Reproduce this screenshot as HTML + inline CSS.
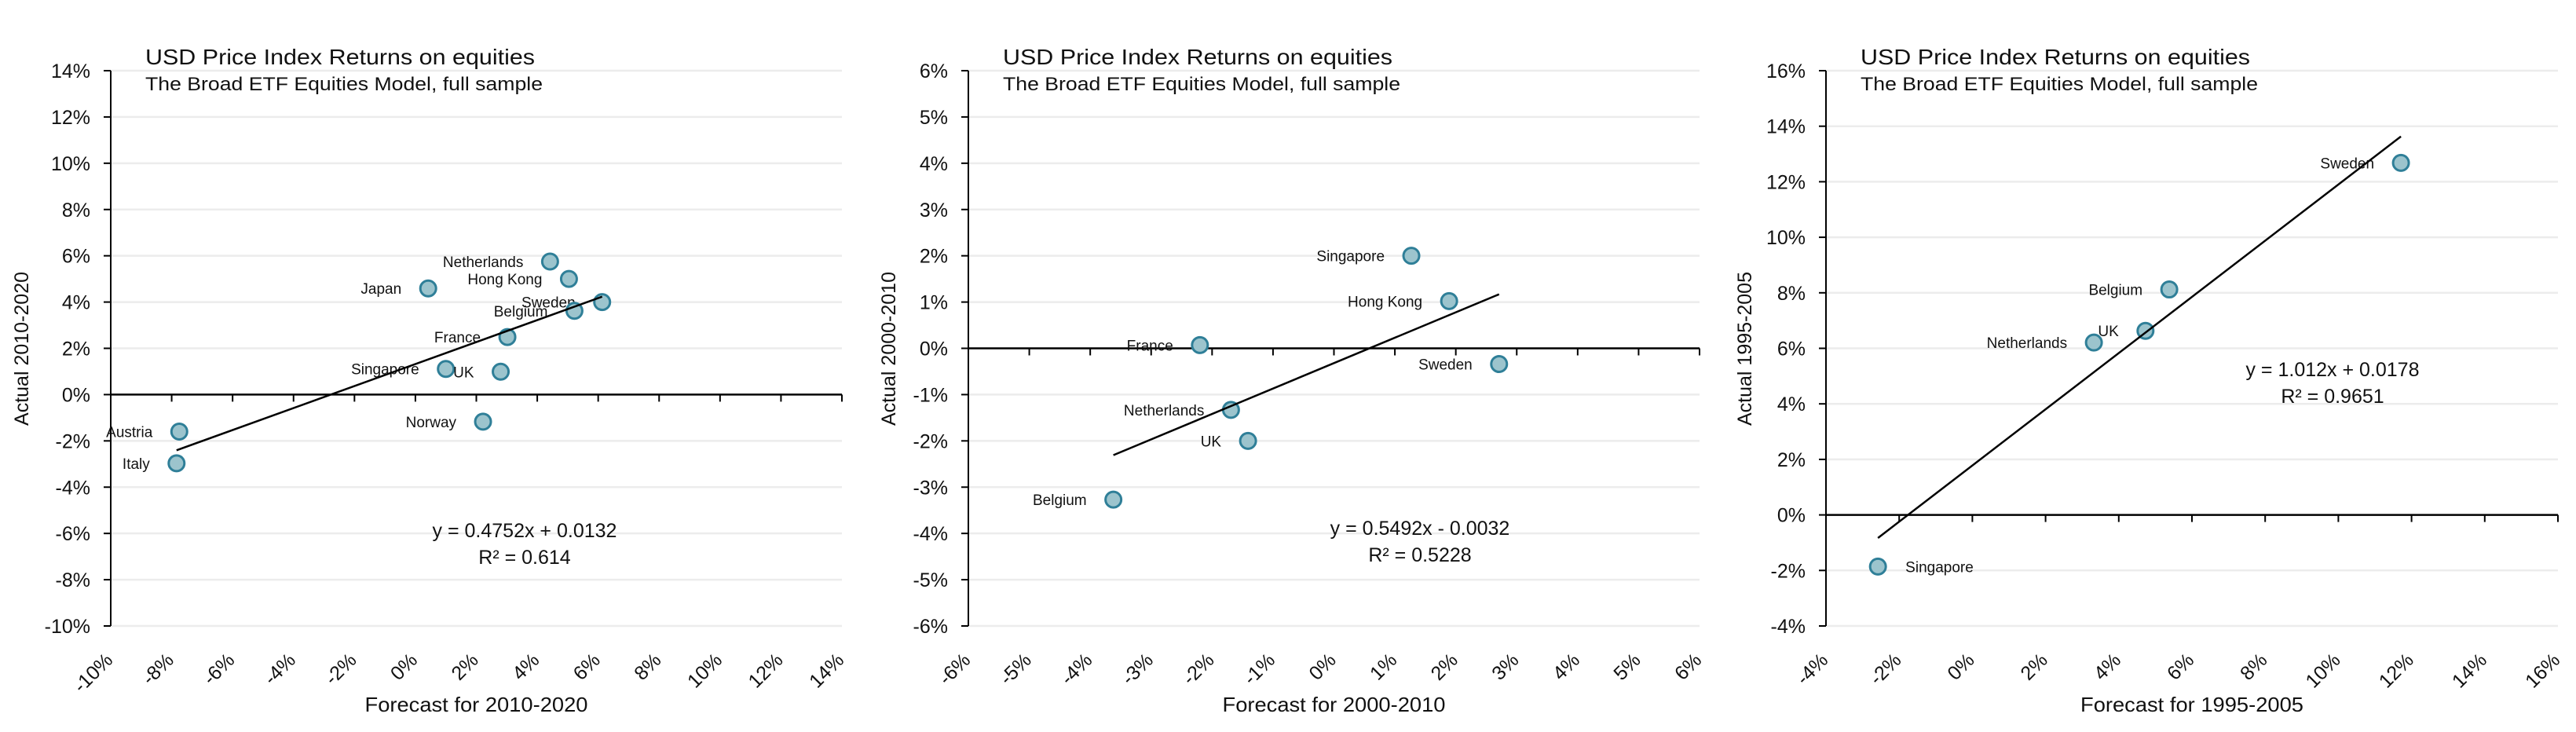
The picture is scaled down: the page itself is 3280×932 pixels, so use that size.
<!DOCTYPE html>
<html><head><meta charset="utf-8"><style>
html,body{margin:0;padding:0;background:#fff;}
svg{display:block;font-family:"Liberation Sans",sans-serif;}
</style></head><body>
<svg id="chart" width="3280" height="932" viewBox="0 0 3280 932" xmlns="http://www.w3.org/2000/svg"></svg>
<script>
// ---- Panel 1 data (2010-2020) ----
const p1Countries = ["Netherlands","Hong Kong","Japan","Sweden","Belgium","France","Singapore","UK","Norway","Austria","Italy"];
const p1Forecast = [4.42,5.04,0.42,6.13,5.22,3.02,1.0,2.8,2.22,-7.75,-7.84];
const p1Actual = [5.75,5.0,4.59,4.0,3.62,2.49,1.11,0.99,-1.17,-1.6,-2.97];
const p1XTicks = [-10,-8,-6,-4,-2,0,2,4,6,8,10,12,14];
const p1YTicks = [-10,-8,-6,-4,-2,0,2,4,6,8,10,12,14];
const p1Slope = 0.4752, p1Intercept = 1.32;
const p1Eq = ["y = 0.4752x + 0.0132","R² = 0.614"];
// ---- Panel 2 data (2000-2010) ----
const p2Countries = ["Singapore","Hong Kong","France","Sweden","Netherlands","UK","Belgium"];
const p2Forecast = [1.27,1.89,-2.2,2.71,-1.69,-1.41,-3.62];
const p2Actual = [2.0,1.02,0.07,-0.34,-1.33,-2.0,-3.27];
const p2XTicks = [-6,-5,-4,-3,-2,-1,0,1,2,3,4,5,6];
const p2YTicks = [-6,-5,-4,-3,-2,-1,0,1,2,3,4,5,6];
const p2Slope = 0.5492, p2Intercept = -0.32;
const p2Eq = ["y = 0.5492x - 0.0032","R² = 0.5228"];
// ---- Panel 3 data (1995-2005) ----
const p3Countries = ["Sweden","Belgium","UK","Netherlands","Singapore"];
const p3Forecast = [11.71,5.38,4.73,3.32,-2.58];
const p3Actual = [12.68,8.12,6.63,6.21,-1.86];
const p3XTicks = [-4,-2,0,2,4,6,8,10,12,14,16];
const p3YTicks = [-4,-2,0,2,4,6,8,10,12,14,16];
const p3Slope = 1.012, p3Intercept = 1.78;
const p3Eq = ["y = 1.012x + 0.0178","R² = 0.9651"];

const svg = document.getElementById('chart');
const NS = "http://www.w3.org/2000/svg";
function mk(tag, attrs, parent){
  const e = document.createElementNS(NS, tag);
  for (const k in attrs) e.setAttribute(k, attrs[k]);
  (parent||svg).appendChild(e);
  return e;
}

function panel(cfg){
  const g = mk('g', {});
  
  
  const L = cfg.left, R = cfg.right, T = 90, B = 797;
  const xs = cfg.xTicks, ys = cfg.yTicks;
  const x0 = xs[0], x1 = xs[xs.length-1], y0 = ys[0], y1 = ys[ys.length-1];
  const X = v => L + (v - x0) / (x1 - x0) * (R - L);
  const Y = v => B - (v - y0) / (y1 - y0) * (B - T);
  // gridlines
  ys.forEach(v => {
    if (v === 0) return;
    const l = mk('line', {x1:L, x2:R, y1:Y(v), y2:Y(v), stroke:'#ececec', 'stroke-width':2.5}, g);
    
    
  });
  // y axis
  const ya = mk('line', {x1:L, x2:L, y1:T, y2:B, stroke:'#000', 'stroke-width':2}, g);
  
  
  ys.forEach(v => {
    mk('line', {x1:L-9, x2:L, y1:Y(v), y2:Y(v), stroke:'#000', 'stroke-width':2}, g);
    const t = mk('text', {x:L-26, y:Y(v)+9, 'text-anchor':'end', 'font-size':25, fill:'#111'}, g);
    t.textContent = v + '%';
    
    
  });
  // zero line + x ticks
  const zy = Y(0);
  const xa = mk('line', {x1:L, x2:R, y1:zy, y2:zy, stroke:'#000', 'stroke-width':2.5}, g);
  
  
  xs.forEach(v => {
    mk('line', {x1:X(v), x2:X(v), y1:zy, y2:zy+9, stroke:'#000', 'stroke-width':2}, g);
    const ax = X(v)+4, ay = 842;
    const t = mk('text', {x:ax, y:ay, 'text-anchor':'end', 'font-size':25, fill:'#111', transform:`rotate(-45 ${ax} ${ay})`}, g);
    t.textContent = v + '%';
    
    
  });
  // titles
  const ti = mk('text', {x:L+44, y:82, 'font-size':28, fill:'#111', textLength:496, lengthAdjust:'spacingAndGlyphs'}, g);
  ti.textContent = 'USD Price Index Returns on equities';
  
  
  const st = mk('text', {x:L+44, y:115, 'font-size':24, fill:'#111', textLength:506, lengthAdjust:'spacingAndGlyphs'}, g);
  st.textContent = 'The Broad ETF Equities Model, full sample';
  
  
  // axis titles
  const yt = mk('text', {x:cfg.yTitleX, y:444, 'text-anchor':'middle', 'font-size':25, fill:'#111', transform:`rotate(-90 ${cfg.yTitleX} 444)`}, g);
  yt.textContent = cfg.yTitle;
  
  
  const xt = mk('text', {x:(L+R)/2, y:906, 'text-anchor':'middle', 'font-size':26, fill:'#111', textLength:284, lengthAdjust:'spacingAndGlyphs'}, g);
  xt.textContent = cfg.xTitle;
  
  
  // points + labels
  const fx = cfg.forecast, fa = cfg.actual;
  fx.forEach((v, i) => {
    const cx = X(v), cy = Y(fa[i]);
    const c = mk('circle', {cx:cx, cy:cy, r:10, fill:'#9cc4cd', stroke:'#2f7f98', 'stroke-width':3}, g);
    
    
    const right = cfg.rightLabels.includes(cfg.countries[i]);
    const t = mk('text', {x: right ? cx+35 : cx-34, y:cy+7, 'text-anchor': right ? 'start' : 'end', 'font-size':19, fill:'#111'}, g);
    t.textContent = cfg.countries[i];
    
    
  });
  // trend line
  const mn = Math.min(...fx), mx = Math.max(...fx);
  const tl = mk('line', {x1:X(mn), y1:Y(cfg.slope*mn+cfg.intercept), x2:X(mx), y2:Y(cfg.slope*mx+cfg.intercept), stroke:'#000', 'stroke-width':2.5}, g);
  
  
  // equation
  cfg.eq.forEach((s, k) => {
    const t = mk('text', {x:cfg.eqX, y:cfg.eqY + k*34, 'text-anchor':'middle', 'font-size':25, fill:'#111'}, g);
    t.textContent = s;
    
    
  });
}

panel({name:'panel-2010-2020', left:141, right:1072, xTicks:p1XTicks, yTicks:p1YTicks, countries:p1Countries, forecast:p1Forecast, actual:p1Actual, slope:p1Slope, intercept:p1Intercept, eq:p1Eq, eqX:668, eqY:684, yTitle:'Actual 2010-2020', yTitleX:36, xTitle:'Forecast for 2010-2020', rightLabels:[]});
panel({name:'panel-2000-2010', left:1233, right:2164, xTicks:p2XTicks, yTicks:p2YTicks, countries:p2Countries, forecast:p2Forecast, actual:p2Actual, slope:p2Slope, intercept:p2Intercept, eq:p2Eq, eqX:1808, eqY:681, yTitle:'Actual 2000-2010', yTitleX:1140, xTitle:'Forecast for 2000-2010', rightLabels:[]});
panel({name:'panel-1995-2005', left:2325, right:3257, xTicks:p3XTicks, yTicks:p3YTicks, countries:p3Countries, forecast:p3Forecast, actual:p3Actual, slope:p3Slope, intercept:p3Intercept, eq:p3Eq, eqX:2970, eqY:479, yTitle:'Actual 1995-2005', yTitleX:2230, xTitle:'Forecast for 1995-2005', rightLabels:['Singapore']});
</script>
</body></html>
